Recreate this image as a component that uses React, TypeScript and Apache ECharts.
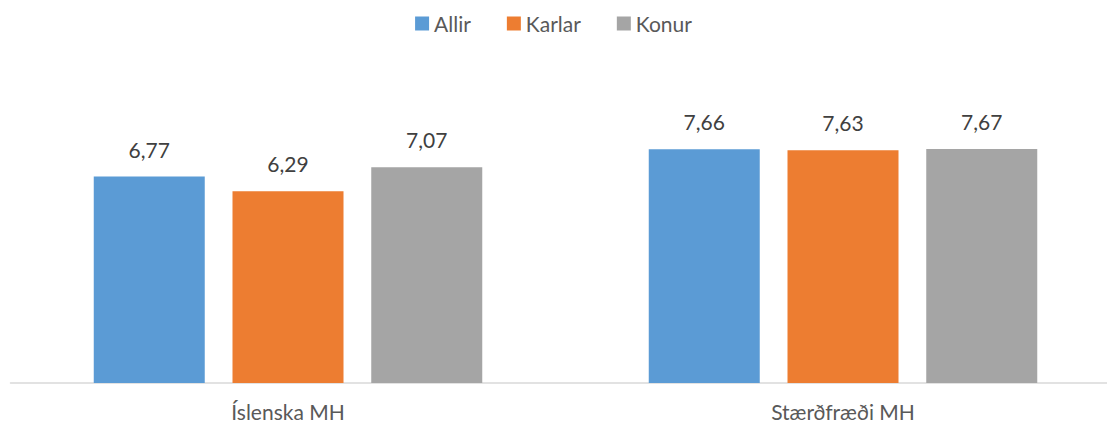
import React, { useEffect, useRef } from "react";
import * as echarts from "echarts";

const categories = ["Íslenska MH", "Stærðfræði MH"];
const seriesNames = ["Allir", "Karlar", "Konur"];
const allir = [6.77, 7.66];
const karlar = [6.29, 7.63];
const konur = [7.07, 7.67];
const colors = ["#5B9BD5", "#ED7D31", "#A5A5A5"];

export default function App() {
  const ref = useRef<HTMLDivElement>(null);
  useEffect(() => {
    const chart = echarts.init(ref.current!, null, { renderer: "svg" });
    const values = [allir, karlar, konur];
    chart.setOption({
      animation: false,
      textStyle: { fontFamily: "Lato" },
      legend: {
        top: 8,
        left: "center",
        itemWidth: 14,
        itemHeight: 14,
        itemGap: 36,
        icon: "rect",
        textStyle: { fontSize: 21, color: "#595959", fontFamily: "Lato" },
        data: seriesNames,
      },
      grid: { left: 10.5, width: 1110, top: 108.5, bottom: 40, outerBoundsMode: "none", containLabel: false },
      xAxis: {
        type: "category",
        data: categories,
        axisLine: { lineStyle: { color: "#D9D9D9", width: 1.5 } },
        axisTick: { show: false },
        axisLabel: { fontSize: 21, color: "#595959", margin: 18, fontFamily: "Lato" },
      },
      yAxis: {
        type: "value",
        min: 0,
        max: 9,
        show: false,
        splitLine: { show: false },
      },
      series: seriesNames.map((name, i) => ({
        name,
        type: "bar",
        data: values[i],
        barWidth: 111,
        barGap: "25%",
        itemStyle: { color: colors[i] },
        label: {
          show: true,
          position: "top",
          distance: 17,
          fontSize: 21,
          color: "#404040",
          fontFamily: "Lato",
          formatter: (p: any) => p.value.toFixed(2).replace(".", ","),
        },
      })),
    });
    return () => chart.dispose();
  }, []);
  return <div ref={ref} style={{ width: 1107, height: 423, position: "absolute", left: 0, top: 0 }} />;
}
